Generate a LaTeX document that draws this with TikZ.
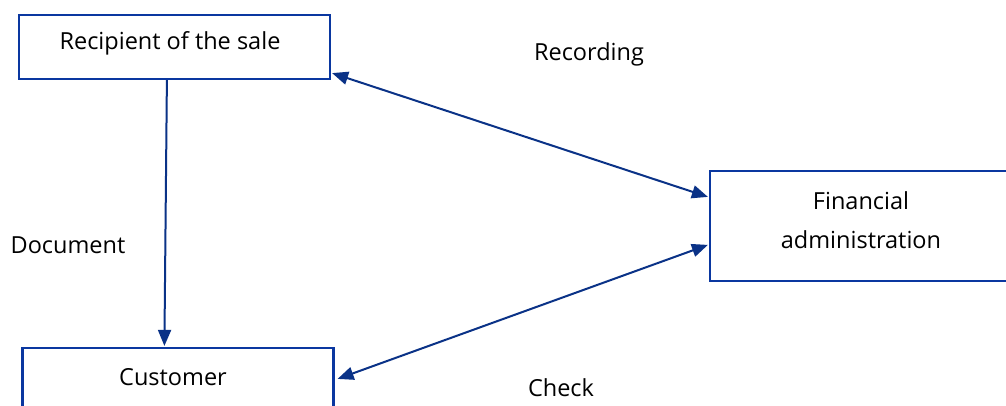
\documentclass[tikz,border=0pt]{standalone}
\usepackage{fontspec}
\setmainfont{Open Sans}
\usetikzlibrary{arrows.meta,calc}
\definecolor{boxblue}{RGB}{10,55,160}
\definecolor{arrblue}{RGB}{10,50,135}
\tikzset{
  box/.style={draw=boxblue,line width=2.2pt,fill=white,minimum width=311pt,inner sep=0pt},
  conn/.style={draw=arrblue,line width=2pt,{Triangle[length=16pt,width=13pt]}-{Triangle[length=16pt,width=13pt]}},
  oneway/.style={draw=arrblue,line width=2pt,-{Triangle[length=16pt,width=13pt]}},
  lbl/.style={font=\fontsize{23.5}{39}\selectfont,text=black,inner sep=0pt}
}
\begin{document}
\begin{tikzpicture}[x=1pt,y=-1pt]
\useasboundingbox (0,0) rectangle (1006,406);
\fill[white] (0,0) rectangle (1006,406);
\clip (0,0) rectangle (1006,406);
\node[box,minimum height=64pt] (rec) at (174.5,47) {};
\node[lbl] at (170,43) {Recipient of the sale};
\node[box,minimum width=300pt,minimum height=110pt] (fin) at (860,226) {};
\node[lbl,align=center] at (861,220) {Financial\\administration};
\node[box,minimum height=70pt] (cus) at (178,383) {};
\node[lbl] at (173,377) {Customer};
\node[lbl] (recording) at (589,54) {Recording};
\node[lbl] (document) at (68,245) {Document};
\node[lbl] (check) at (561,388) {Check};
\draw[oneway] ($(rec.south west)+(149,0)$) -- ($(cus.north west)+(143,-1)$);
\draw[conn] ($(rec.south east)+(1,-7)$) -- ($(fin.north west)+(-1,27)$);
\draw[conn] ($(cus.north east)+(3,32)$) -- ($(fin.north west)+(-1,75)$);
\end{tikzpicture}
\end{document}
